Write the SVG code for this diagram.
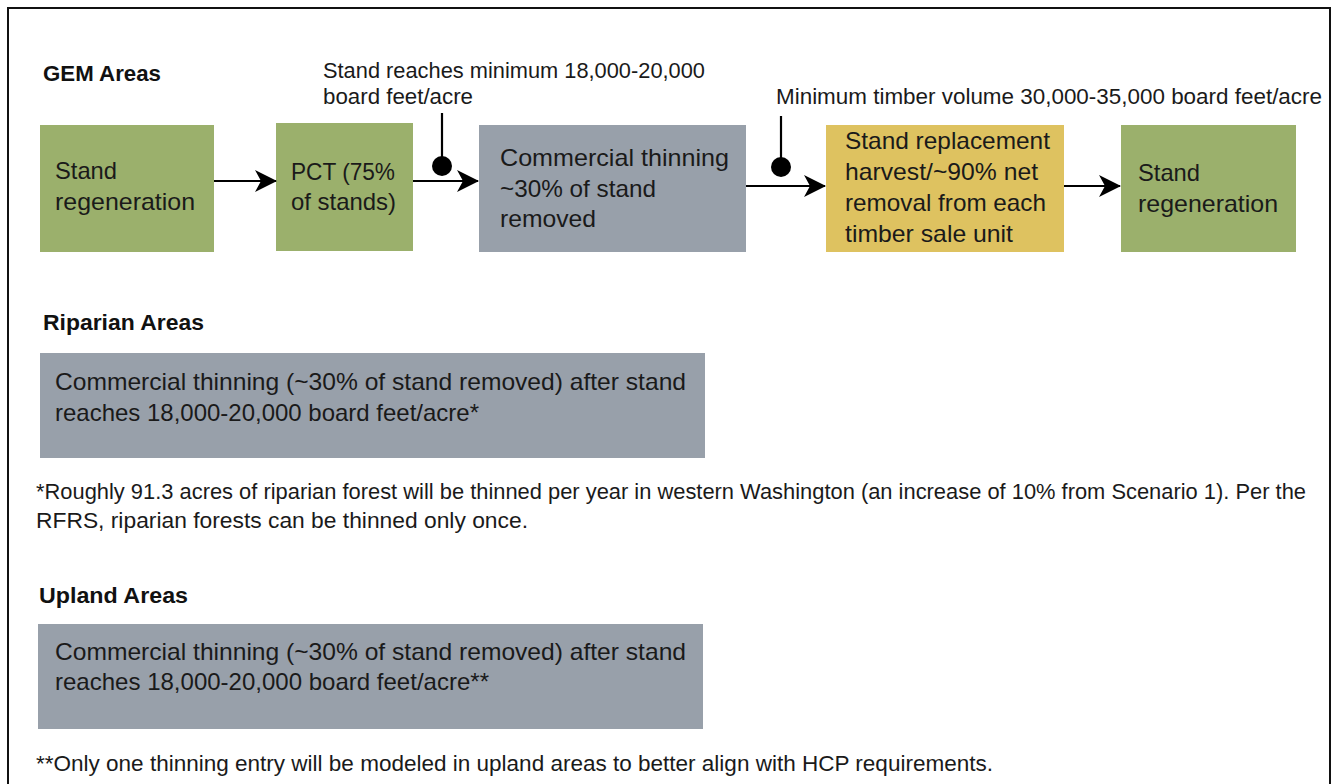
<svg xmlns="http://www.w3.org/2000/svg" width="1334" height="784" viewBox="0 0 1334 784">
<defs>
<style>
.t{font-family:"Liberation Sans",Arial,sans-serif;fill:#1a1a1a;}
.h{font-family:"Liberation Sans",Arial,sans-serif;font-weight:bold;font-size:22px;fill:#111;}
.b{font-size:24px;}
.s{font-size:22px;}
.green{fill:#9bb06c;}
.grey{fill:#98a0aa;}
.yellow{fill:#dec260;}
.ln{stroke:#000;stroke-width:2.2;fill:none;}
</style>
<marker id="arr" markerUnits="userSpaceOnUse" viewBox="0 0 22 24" markerWidth="22" markerHeight="24" refX="21" refY="12" orient="auto">
<path d="M0,1 L22,12 L0,23 L6,12 Z" fill="#000"/>
</marker>
</defs>
<rect width="1334" height="784" fill="#fff"/>
<rect x="8" y="8" width="1322" height="800" fill="none" stroke="#111" stroke-width="2"/>

<g id="titles">
<text class="h" x="43" y="81" textLength="118" lengthAdjust="spacingAndGlyphs">GEM Areas</text>
<text class="h" x="43" y="330" textLength="161" lengthAdjust="spacingAndGlyphs">Riparian Areas</text>
<text class="h" x="39" y="603" textLength="149" lengthAdjust="spacingAndGlyphs">Upland Areas</text>
</g>

<g id="labels">
<text class="t s" x="323" y="78" textLength="382" lengthAdjust="spacingAndGlyphs">Stand reaches minimum 18,000-20,000</text>
<text class="t s" x="323" y="104" textLength="150" lengthAdjust="spacingAndGlyphs">board feet/acre</text>
<text class="t s" x="776" y="104" textLength="546" lengthAdjust="spacingAndGlyphs">Minimum timber volume 30,000-35,000 board feet/acre</text>
</g>

<g id="n1">
<rect class="green" x="40" y="125" width="174" height="127"/>
<text class="t b" x="55" y="179" textLength="62" lengthAdjust="spacingAndGlyphs">Stand</text>
<text class="t b" x="55" y="210" textLength="140" lengthAdjust="spacingAndGlyphs">regeneration</text>
</g>
<g id="n2">
<rect class="green" x="276" y="123" width="137" height="128"/>
<text class="t b" x="291" y="180" textLength="104" lengthAdjust="spacingAndGlyphs">PCT (75%</text>
<text class="t b" x="291" y="210" textLength="105" lengthAdjust="spacingAndGlyphs">of stands)</text>
</g>
<g id="n3">
<rect class="grey" x="479" y="125" width="267" height="127"/>
<text class="t b" x="500" y="166" textLength="229" lengthAdjust="spacingAndGlyphs">Commercial thinning</text>
<text class="t b" x="500" y="197" textLength="156" lengthAdjust="spacingAndGlyphs">~30% of stand</text>
<text class="t b" x="500" y="227" textLength="96" lengthAdjust="spacingAndGlyphs">removed</text>
</g>
<g id="n4">
<rect class="yellow" x="826" y="125" width="238" height="127"/>
<text class="t b" x="845" y="149" textLength="205" lengthAdjust="spacingAndGlyphs">Stand replacement</text>
<text class="t b" x="845" y="180" textLength="193" lengthAdjust="spacingAndGlyphs">harvest/~90% net</text>
<text class="t b" x="845" y="211" textLength="201" lengthAdjust="spacingAndGlyphs">removal from each</text>
<text class="t b" x="845" y="242" textLength="168" lengthAdjust="spacingAndGlyphs">timber sale unit</text>
</g>
<g id="n5">
<rect class="green" x="1121" y="125" width="175" height="127"/>
<text class="t b" x="1138" y="181" textLength="62" lengthAdjust="spacingAndGlyphs">Stand</text>
<text class="t b" x="1138" y="212" textLength="140" lengthAdjust="spacingAndGlyphs">regeneration</text>
</g>

<g id="connectors">
<line class="ln" x1="214" y1="181" x2="276" y2="181" marker-end="url(#arr)"/>
<line class="ln" x1="413" y1="181" x2="478" y2="181" marker-end="url(#arr)"/>
<line class="ln" x1="746" y1="186" x2="825" y2="186" marker-end="url(#arr)"/>
<line class="ln" x1="1064" y1="186" x2="1120" y2="186" marker-end="url(#arr)"/>
<line class="ln" x1="442" y1="113" x2="442" y2="166"/>
<circle cx="442" cy="166" r="10" fill="#000"/>
<line class="ln" x1="781" y1="116" x2="781" y2="167"/>
<circle cx="781" cy="167" r="10" fill="#000"/>
</g>

<g id="riparian">
<rect class="grey" x="40" y="353" width="665" height="105"/>
<text class="t b" x="55" y="390" textLength="631" lengthAdjust="spacingAndGlyphs">Commercial thinning (~30% of stand removed) after stand</text>
<text class="t b" x="55" y="421" textLength="424" lengthAdjust="spacingAndGlyphs">reaches 18,000-20,000 board feet/acre*</text>
</g>
<g id="riparian-note">
<text class="t s" x="36" y="499" textLength="1270" lengthAdjust="spacingAndGlyphs">*Roughly 91.3 acres of riparian forest will be thinned per year in western Washington (an increase of 10% from Scenario 1). Per the</text>
<text class="t s" x="36" y="528" textLength="492" lengthAdjust="spacingAndGlyphs">RFRS, riparian forests can be thinned only once.</text>
</g>

<g id="upland">
<rect class="grey" x="38" y="624" width="665" height="105"/>
<text class="t b" x="55" y="660" textLength="631" lengthAdjust="spacingAndGlyphs">Commercial thinning (~30% of stand removed) after stand</text>
<text class="t b" x="55" y="690" textLength="434" lengthAdjust="spacingAndGlyphs">reaches 18,000-20,000 board feet/acre**</text>
</g>
<g id="upland-note">
<text class="t s" x="36" y="771" textLength="957" lengthAdjust="spacingAndGlyphs">**Only one thinning entry will be modeled in upland areas to better align with HCP requirements.</text>
</g>
</svg>
